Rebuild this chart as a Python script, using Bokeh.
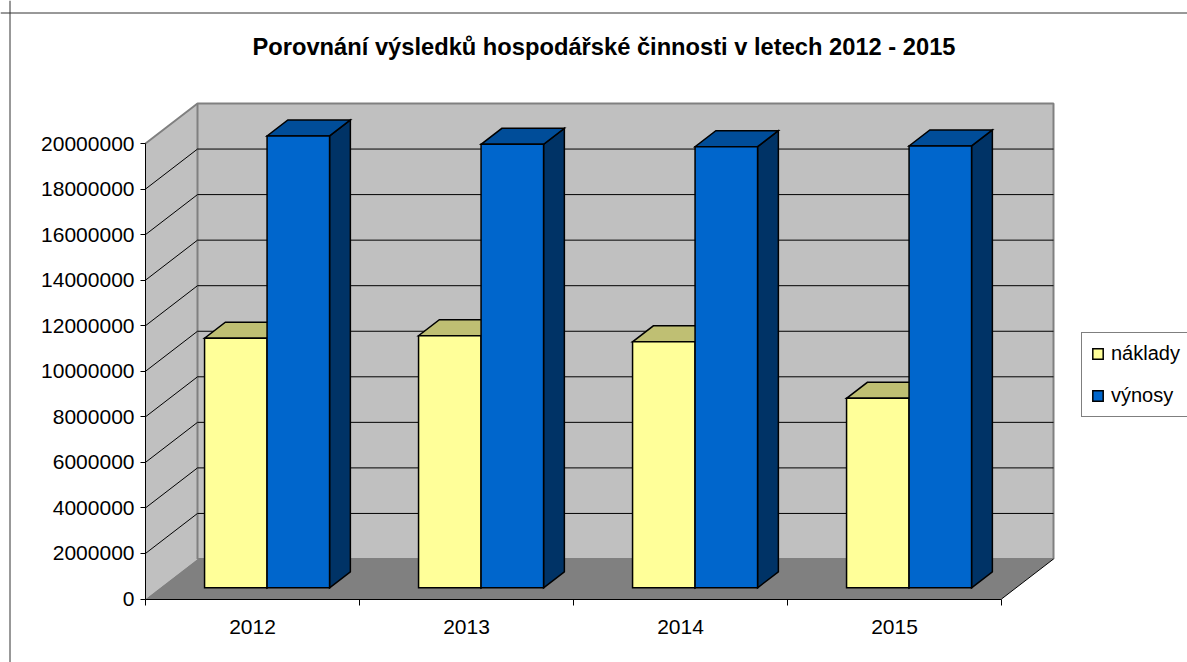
from bokeh.plotting import figure
from bokeh.models import (LinearAxis, FixedTicker, Range1d, Label, Legend,
                          LegendItem, Span)
from bokeh.embed import file_html
from bokeh.resources import INLINE

# ---------------- data ----------------
title_text = "Porovnání výsledků hospodářské činnosti v letech 2012 - 2015"
categories = ["2012", "2013", "2014", "2015"]
series_names = ["náklady", "výnosy"]
naklady = [10960000, 11070000, 10800000, 8320000]
vynosy = [19840000, 19470000, 19370000, 19400000]
y_ticks = [0, 2000000, 4000000, 6000000, 8000000, 10000000,
           12000000, 14000000, 16000000, 18000000, 20000000]
y_tick_labels = ["0", "2000000", "4000000", "6000000", "8000000", "10000000",
                 "12000000", "14000000", "16000000", "18000000", "20000000"]

# ---------------- layout constants (page pixels) ----------------
W, H = 1187, 662
PAGE_X0, PAGE_Y0 = 0, 0
AX_X = 145.0          # page x of the value axis (front plane)
AX_Y = 598.5          # page y of value 0 (front plane)
CAT_PX = 214.0        # width of one category
VAL_PX = 455.5 / 20000000.0
DEPTH_DX_PX, DEPTH_DY_PX = 52.0, 40.0
BAR_F0, BAR_F1 = 0.28, 0.68
BAR_W = 62.5 / CAT_PX
FONT = "Liberation Sans"

def px_x(X):
    return -0.5 + (X - AX_X) / CAT_PX

def px_y(Y):
    return (AX_Y - Y) / VAL_PX

DX = DEPTH_DX_PX / CAT_PX
DY = DEPTH_DY_PX / VAL_PX
n = len(categories)
x_lo, x_hi = -0.5, n - 0.5
v_max = y_ticks[-1]

p = figure(width=W, height=H, output_backend="svg", toolbar_location=None,
           x_range=Range1d(px_x(PAGE_X0), px_x(PAGE_X0 + W)),
           y_range=Range1d(px_y(PAGE_Y0 + H), px_y(PAGE_Y0)),
           x_axis_type=None, y_axis_type=None, title=None,
           min_border=0, min_border_left=0, min_border_right=0,
           min_border_top=0, min_border_bottom=0)
p.outline_line_color = None
p.background_fill_color = "white"
p.border_fill_color = "white"

WALL = "#C0C0C0"
FLOOR = "#808080"
EDGE = "#808080"

# left wall
p.patch([x_lo, x_lo, x_lo + DX, x_lo + DX], [0, v_max, v_max + DY, DY],
        fill_color=WALL, line_color=None)
# back wall
p.patch([x_lo + DX, x_hi + DX, x_hi + DX, x_lo + DX],
        [DY, DY, v_max + DY, v_max + DY], fill_color=WALL, line_color=None)
# floor
p.patch([x_lo, x_hi, x_hi + DX, x_lo + DX], [0, 0, DY, DY],
        fill_color=FLOOR, line_color=None)

# wall edges
p.multi_line([[x_lo, x_lo + DX, x_hi + DX, x_hi + DX],
              [x_lo + DX, x_lo + DX],
              [x_lo + DX, x_hi + DX]],
             [[v_max, v_max + DY, v_max + DY, DY],
              [DY, v_max + DY],
              [DY, DY]],
             line_color=EDGE, line_width=2)

# gridlines
grid_xs, grid_ys = [], []
for t in y_ticks[1:-1]:
    grid_xs.append([x_lo, x_lo + DX, x_hi + DX])
    grid_ys.append([t, t + DY, t + DY])
p.multi_line(grid_xs, grid_ys, line_color="black", line_width=1)
# floor right edge
p.line([x_hi, x_hi + DX], [0, DY], line_color="black", line_width=1)

# ---------------- bars ----------------
sx0, sy0 = BAR_F0 * DX, BAR_F0 * DY
sx1, sy1 = BAR_F1 * DX, BAR_F1 * DY

def faces(values, j):
    fr_x, fr_y, tp_x, tp_y, sd_x, sd_y = [], [], [], [], [], []
    for i, v in enumerate(values):
        l = i - BAR_W + j * BAR_W
        r = l + BAR_W
        fr_x.append([l + sx0, r + sx0, r + sx0, l + sx0])
        fr_y.append([sy0, sy0, v + sy0, v + sy0])
        tp_x.append([l + sx0, r + sx0, r + sx1, l + sx1])
        tp_y.append([v + sy0, v + sy0, v + sy1, v + sy1])
        sd_x.append([r + sx0, r + sx1, r + sx1, r + sx0])
        sd_y.append([sy0, sy1, v + sy1, v + sy0])
    return (fr_x, fr_y), (tp_x, tp_y), (sd_x, sd_y)

series = [(naklady, "#FFFF99", "#BFBF73", "#80804D"),
          (vynosy, "#0066CC", "#004D99", "#003366")]
front_renderers = []
for j, (vals, c_front, c_top, c_side) in enumerate(series):
    fr, tp, sd = faces(vals, j)
    common = dict(line_color="black", line_width=1.5, line_join="miter")
    p.patches(sd[0], sd[1], fill_color=c_side, **common)
    p.patches(tp[0], tp[1], fill_color=c_top, **common)
    rf = p.patches(fr[0], fr[1], fill_color=c_front, **common)
    front_renderers.append(rf)

# ---------------- axes ----------------
yaxis = LinearAxis(fixed_location=x_lo,
                   ticker=FixedTicker(ticks=y_ticks, minor_ticks=[]),
                   bounds=(0, v_max),
                   major_label_overrides=dict(zip(y_ticks, y_tick_labels)))
yaxis.axis_line_color = "black"
yaxis.major_tick_out = 5
yaxis.major_tick_in = 0
yaxis.minor_tick_out = 0
yaxis.minor_tick_in = 0
yaxis.major_label_standoff = 6
yaxis.major_label_text_font = FONT
yaxis.major_label_text_font_size = "21px"
yaxis.major_label_text_color = "black"
p.add_layout(yaxis, "left")

cat_pos = list(range(n))
xaxis = LinearAxis(fixed_location=0,
                   ticker=FixedTicker(ticks=cat_pos,
                                      minor_ticks=[k - 0.5 for k in range(n + 1)]),
                   bounds=(x_lo, x_hi),
                   major_label_overrides=dict(zip(cat_pos, categories)))
xaxis.axis_line_color = "black"
xaxis.major_tick_out = 0
xaxis.major_tick_in = 0
xaxis.minor_tick_out = 6
xaxis.minor_tick_in = 0
xaxis.minor_tick_line_color = "black"
xaxis.major_label_standoff = 15
xaxis.major_label_text_font = FONT
xaxis.major_label_text_font_size = "21px"
xaxis.major_label_text_color = "black"
p.add_layout(xaxis, "below")

# ---------------- title ----------------
p.add_layout(Label(x=px_x(603.5), y=px_y(46), text=title_text,
                   text_align="center", text_baseline="middle",
                   text_font=FONT, text_font_style="bold",
                   text_font_size="23.7px", text_color="black"))

# ---------------- chart border ----------------
p.add_layout(Span(location=px_x(9.5), dimension="height",
                  line_color="#333333", line_width=1))
p.add_layout(Span(location=px_y(12.5), dimension="width",
                  line_color="#333333", line_width=1))

# ---------------- legend ----------------
legend = Legend(items=[LegendItem(label=series_names[k], renderers=[front_renderers[k]])
                       for k in range(2)],
                location=(1081 - PAGE_X0, PAGE_Y0 + H - 417))
legend.border_line_color = "black"
legend.border_line_width = 1
legend.background_fill_color = "white"
legend.background_fill_alpha = 1
legend.padding = 9
legend.spacing = 19
legend.margin = 0
legend.glyph_width = 13
legend.glyph_height = 13
legend.label_height = 13
legend.label_standoff = 7
legend.label_text_font = FONT
legend.label_text_font_size = "20px"
legend.label_text_color = "black"
p.add_layout(legend)

open("out.html", "w").write(file_html(p, INLINE))
